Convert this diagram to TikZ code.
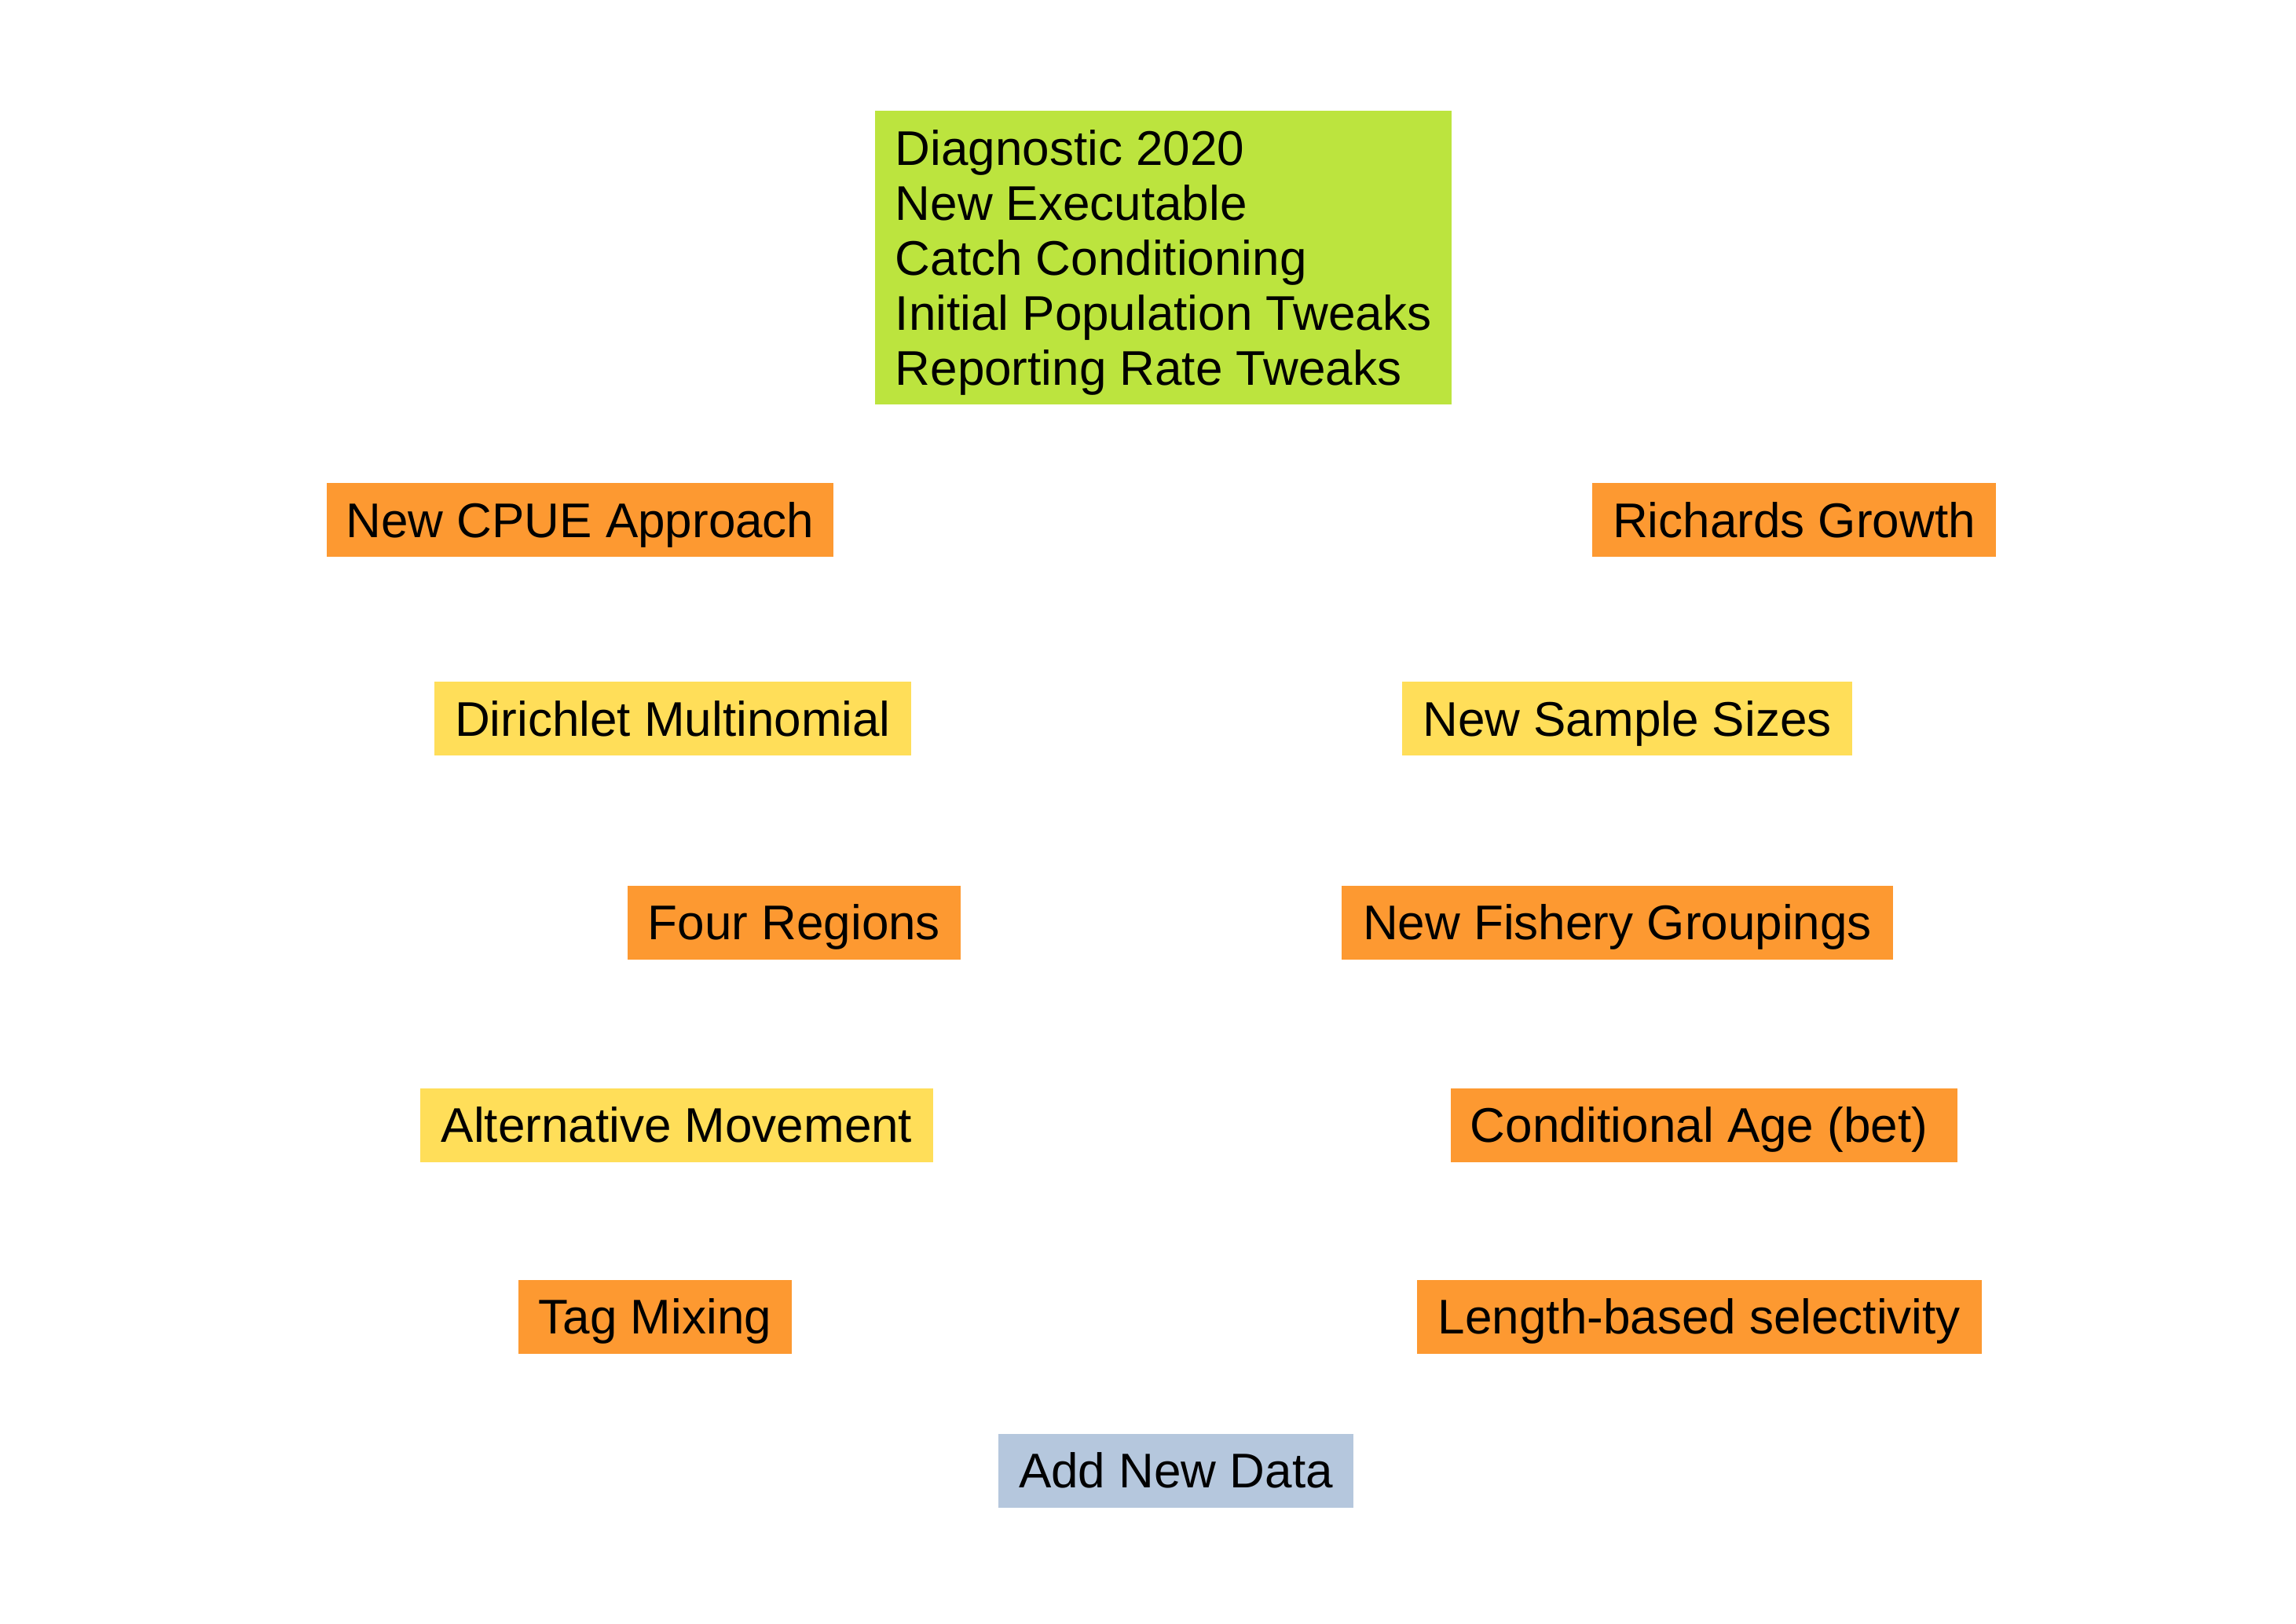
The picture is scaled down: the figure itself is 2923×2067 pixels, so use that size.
\documentclass[tikz,border=0pt]{standalone}
\usepackage{fontspec}
\setmainfont{Liberation Sans}
\definecolor{cgreen}{HTML}{BCE43E}
\definecolor{corange}{HTML}{FD9931}
\definecolor{cyellow}{HTML}{FFDE59}
\definecolor{cblue}{HTML}{B5C7DD}
\tikzset{
  box/.style={fill=#1, draw=none, inner sep=0pt, minimum height=94pt,
    text height=44.4pt, text depth=0pt,
    font=\fontsize{62}{70}\selectfont, anchor=center},
}
\begin{document}
\begin{tikzpicture}[x=1pt,y=-1pt]
\useasboundingbox[fill=white] (0,0) rectangle (2923,2067);
\node[box=cgreen, minimum width=734pt, minimum height=374pt, text depth=280pt] (diag) at (1481,328)
  {\vtop{\baselineskip=70pt\lineskiplimit=-100pt
   \hbox{Diagnostic 2020}\hbox{New Executable}\hbox{Catch Conditioning}\hbox{Initial Population Tweaks}\hbox{Reporting Rate Tweaks}}};
\node[box=corange, minimum width=645pt] (cpue) at (738.5,662) {New CPUE Approach};
\node[box=corange, minimum width=514pt] (rich) at (2284,662) {Richards Growth};
\node[box=cyellow, minimum width=607pt] (diri) at (856.5,915) {Dirichlet Multinomial};
\node[box=cyellow, minimum width=573pt] (nss) at (2071.5,915) {New Sample Sizes};
\node[box=corange, minimum width=424pt] (four) at (1011,1174.5) {Four Regions};
\node[box=corange, minimum width=702pt] (nfg) at (2059,1174.5) {New Fishery Groupings};
\node[box=cyellow, minimum width=653pt] (alt) at (861.5,1432.5) {Alternative Movement};
\node[box=corange, minimum width=645pt] (cond) at (2169.5,1432.5) {Conditional Age (bet)\kern13pt};
\node[box=corange, minimum width=348pt] (tag) at (834,1676.5) {Tag Mixing};
\node[box=corange, minimum width=719pt] (len) at (2163.5,1676.5) {Length-based selectivity};
\node[box=cblue, minimum width=452pt] (add) at (1497,1872.5) {Add New Data};
\end{tikzpicture}
\end{document}
